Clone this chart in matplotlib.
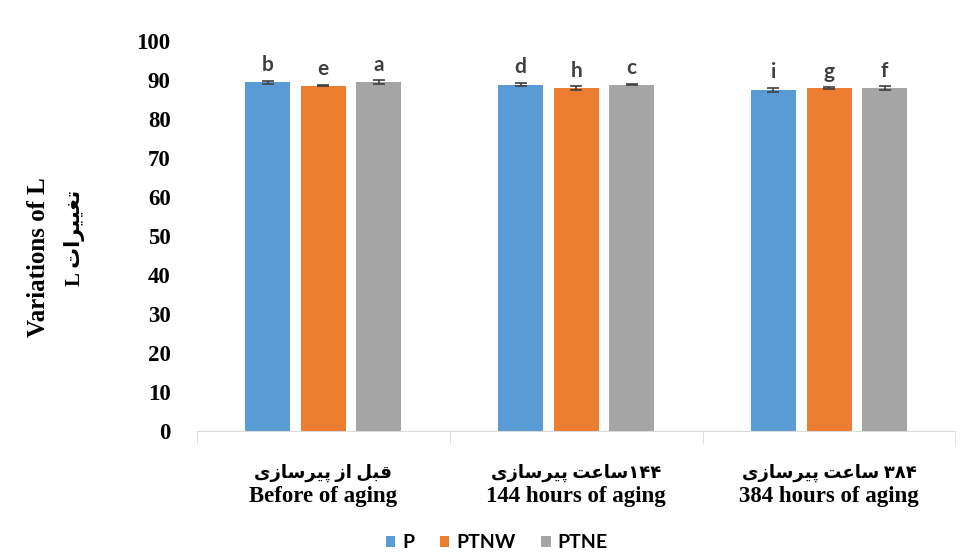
import numpy as np
import matplotlib.pyplot as plt
from matplotlib.transforms import blended_transform_factory

# data
groups_fa = ["قبل از پیرسازی", "۱۴۴ساعت پیرسازی", "۳۸۴ ساعت پیرسازی"]
groups_en = ["Before of aging", "144 hours of aging", "384 hours of aging"]
series = ["P", "PTNW", "PTNE"]
values = {
    "P": [89.4, 88.8, 87.5],
    "PTNW": [88.5, 87.9, 87.9],
    "PTNE": [89.4, 88.8, 87.9],
}
errors = {
    "P": [0.4, 0.5, 0.5],
    "PTNW": [0.2, 0.4, 0.2],
    "PTNE": [0.5, 0.2, 0.5],
}
letters = {
    "P": ["b", "d", "i"],
    "PTNW": ["e", "h", "g"],
    "PTNE": ["a", "c", "f"],
}
colors = {"P": "#5B9BD5", "PTNW": "#ED7D31", "PTNE": "#A5A5A5"}

# --- tiny arabic shaping + visual reordering (matplotlib has no bidi) ---
FORMS = {
    'ا': ('\uFE8D', '\uFE8E', None, None),
    'ب': ('\uFE8F', '\uFE90', '\uFE91', '\uFE92'),
    'ت': ('\uFE95', '\uFE96', '\uFE97', '\uFE98'),
    'ر': ('\uFEAD', '\uFEAE', None, None),
    'ز': ('\uFEAF', '\uFEB0', None, None),
    'س': ('\uFEB1', '\uFEB2', '\uFEB3', '\uFEB4'),
    'ع': ('\uFEC9', '\uFECA', '\uFECB', '\uFECC'),
    'غ': ('\uFECD', '\uFECE', '\uFECF', '\uFED0'),
    'ق': ('\uFED5', '\uFED6', '\uFED7', '\uFED8'),
    'ل': ('\uFEDD', '\uFEDE', '\uFEDF', '\uFEE0'),
    'پ': ('\uFB56', '\uFB57', '\uFB58', '\uFB59'),
    'ی': ('\uFBFC', '\uFBFD', '\uFBFE', '\uFBFF'),
}


def fa(s):
    shaped = []
    for i, ch in enumerate(s):
        if ch not in FORMS:
            shaped.append(ch)
            continue
        prev = s[i - 1] if i > 0 else ''
        nxt = s[i + 1] if i + 1 < len(s) else ''
        jp = prev in FORMS and FORMS[prev][2] is not None
        jn = nxt in FORMS and FORMS[ch][2] is not None
        shaped.append(FORMS[ch][{(False, False): 0, (True, False): 1,
                                 (False, True): 2, (True, True): 3}[(jp, jn)]])
    # split into LTR runs (latin / digits) and RTL runs, then reorder
    runs = []
    for ch in shaped:
        ltr = ch.isascii() and ch.isalnum() or ('\u06F0' <= ch <= '\u06F9')
        if runs and runs[-1][0] == ltr:
            runs[-1][1].append(ch)
        else:
            runs.append([ltr, [ch]])
    out = []
    for ltr, chars in reversed(runs):
        out.append(''.join(chars if ltr else reversed(chars)))
    return ''.join(out)


serif = ['Liberation Serif', 'DejaVu Sans']
sans = ['Lato', 'DejaVu Sans']
fig = plt.figure(figsize=(9.7, 5.59), dpi=100)
ax = fig.add_axes([0.203, 0.229, 0.782, 0.698])

x = np.arange(len(groups_en))
offs = [-0.22, 0.0, 0.22]
width = 0.178
for k, s in enumerate(series):
    ax.bar(x + offs[k], values[s], width, color=colors[s], label=s,
           yerr=errors[s], error_kw=dict(ecolor='#404040', elinewidth=1.2,
                                         capsize=4, capthick=1.2))
    for i in range(len(x)):
        ax.annotate(letters[s][i], (x[i] + offs[k], values[s][i] + errors[s][i]),
                    xytext=(0, 4), textcoords='offset points', ha='center',
                    va='bottom', fontsize=15, fontweight='bold', color='#404040',
                    family=sans)

ax.set_ylim(0, 100)
ax.set_xlim(-0.5, 2.5)
ax.set_yticks(np.arange(0, 101, 10))
ax.tick_params(axis='y', length=0, pad=19)
for t in ax.get_yticklabels():
    t.set_fontfamily(serif)
    t.set_fontweight('bold')
    t.set_fontsize(16.5)

ax.set_xticks(x)
ax.set_xticklabels([])
ax.tick_params(axis='x', length=0)
ax.set_xticks([-0.5, 0.5, 1.5, 2.5], minor=True)
ax.tick_params(axis='x', which='minor', length=9, color='#D9D9D9')

# two-line category labels: persian above, english below
tr = blended_transform_factory(ax.transData, fig.transFigure)
for i in range(len(x)):
    ax.text(x[i], 0.154, fa(groups_fa[i]), transform=tr, ha='center', va='center',
            fontsize=13, fontweight='bold', family=serif)
    ax.text(x[i], 0.111, groups_en[i], transform=tr, ha='center', va='center',
            fontsize=16.5, fontweight='bold', family=serif)

for sp in ['top', 'right', 'left']:
    ax.spines[sp].set_visible(False)
ax.spines['bottom'].set_color('#D9D9D9')

fig.text(0.040, 0.54, "Variations of L", rotation=90, ha='center', va='center',
         fontsize=18, fontweight='bold', family=serif)
fig.text(0.077, 0.574, fa("تغییرات L"), rotation=90, ha='center', va='center',
         fontsize=15, fontweight='bold', family=serif)

fig.legend(*ax.get_legend_handles_labels(), loc='center',
           bbox_to_anchor=(0.512, 0.029), ncol=3, frameon=False,
           handlelength=0.5, handleheight=0.5, handletextpad=0.35,
           columnspacing=1.3, prop=dict(family=sans, size=14, weight='bold'))

fig.savefig("out.png", dpi=100)
